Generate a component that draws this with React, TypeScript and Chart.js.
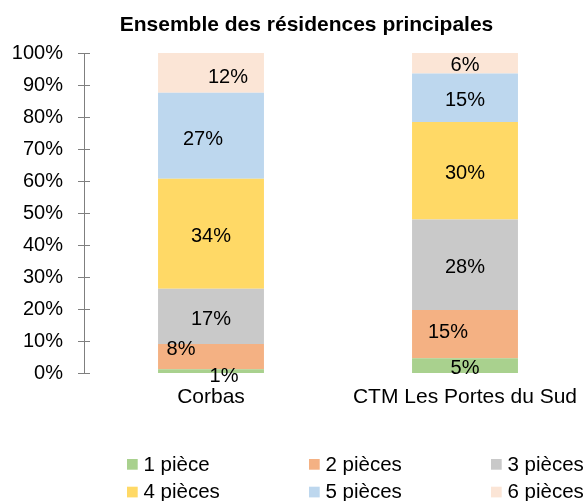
import React, { useEffect, useRef } from "react";
import { Chart, registerables } from "chart.js";

Chart.register(...registerables);

// ---- data ----
const categories = ["Corbas", "CTM Les Portes du Sud"];
const seriesNames = ["1 pièce", "2 pièces", "3 pièces", "4 pièces", "5 pièces", "6 pièces"];
const onePiece = [1.2, 4.6];
const twoPieces = [7.9, 15.1];
const threePieces = [17.2, 28.3];
const fourPieces = [34.4, 30.4];
const fivePieces = [26.9, 15.2];
const sixPieces = [12.4, 6.4];
const yMin = 0;
const yMax = 100;
const yStep = 10;
const titleText = "Ensemble des résidences principales";

// ---- styles ----
const seriesColors = ["#A9D18E", "#F4B183", "#C9C9C9", "#FFD966", "#BDD7EE", "#FBE5D6"];
// per-series, per-category label nudges [dx, dy] (manual label placement)
const labelNudges = [
  [[13, 3.5], [0, 1]],
  [[-30, -9], [-17, -3]],
  [[0, 1], [0, 1.5]],
  [[0, 1], [0, 1.5]],
  [[-8, 2], [0, 1.5]],
  [[17, 3], [0, 1]],
];
const FONT = '"Liberation Sans", Arial, sans-serif';
const FS = 20;
const AXIS_COLOR = "#7F7F7F";

const overlayPlugin = {
  id: "overlay",
  afterDatasetsDraw(chart: any) {
    const ctx = chart.ctx;
    const area = chart.chartArea;
    ctx.save();
    // data labels
    ctx.font = `${FS}px ${FONT}`;
    ctx.fillStyle = "#000";
    ctx.textAlign = "center";
    ctx.textBaseline = "alphabetic";
    chart.data.datasets.forEach((ds: any, di: number) => {
      const meta = chart.getDatasetMeta(di);
      meta.data.forEach((bar: any, i: number) => {
        const p = bar.getProps(["x", "y", "base"], true);
        const cy = (p.y + p.base) / 2;
        const nd = labelNudges[di][i];
        ctx.fillText(Math.round(ds.data[i]) + "%", p.x + nd[0], cy + nd[1] + 0.358 * FS);
      });
    });
    // cross tick marks on value axis
    const ys = chart.scales.y;
    ctx.strokeStyle = AXIS_COLOR;
    ctx.lineWidth = 1;
    ys.ticks.forEach((_t: any, i: number) => {
      const py = Math.round(ys.getPixelForTick(i)) + 0.5;
      ctx.beginPath();
      ctx.moveTo(area.left - 6, py);
      ctx.lineTo(area.left + 6, py);
      ctx.stroke();
    });
    // title
    ctx.font = `bold 21px ${FONT}`;
    ctx.fillStyle = "#000";
    ctx.textAlign = "center";
    ctx.fillText(titleText, 306.5, 31);
    // legend (3 columns x 2 rows)
    ctx.font = `20.5px ${FONT}`;
    ctx.textAlign = "left";
    chart.data.datasets.forEach((ds: any, di: number) => {
      const col = di % 3;
      const row = Math.floor(di / 3);
      const x = 127 + col * 182;
      const base = 470.7 + row * 27.7;
      ctx.fillStyle = ds.backgroundColor;
      ctx.fillRect(x, base - 11.7, 10.7, 10.7);
      ctx.fillStyle = "#000";
      ctx.fillText(ds.label, x + 16.5, base);
    });
    ctx.restore();
  },
};

export default function App() {
  const ref = useRef<HTMLCanvasElement | null>(null);
  useEffect(() => {
    if (!ref.current) return;
    const values = [onePiece, twoPieces, threePieces, fourPieces, fivePieces, sixPieces];
    const chart = new Chart(ref.current, {
      type: "bar",
      data: {
        labels: categories,
        datasets: seriesNames.map((name, i) => ({
          label: name,
          data: values[i],
          backgroundColor: seriesColors[i],
          borderWidth: 0,
          categoryPercentage: 1,
          barPercentage: 0.417,
        })),
      },
      options: {
        responsive: false,
        animation: false,
        devicePixelRatio: 1,
        layout: { padding: { left: 0, right: 8, top: 53, bottom: 0 } },
        font: { family: FONT, size: FS },
        plugins: {
          legend: { display: false },
          title: { display: false },
          tooltip: { enabled: false },
        },
        scales: {
          x: {
            stacked: true,
            grid: { display: false, drawTicks: false },
            border: { display: false },
            ticks: { color: "#000", font: { family: FONT, size: 21 }, padding: 12, maxRotation: 0 },
            afterFit: (s: any) => {
              s.height = 128;
            },
          },
          y: {
            stacked: true,
            min: yMin,
            max: yMax,
            grid: { display: false, drawTicks: false },
            border: { display: true, color: AXIS_COLOR, width: 1 },
            ticks: {
              stepSize: yStep,
              color: "#000",
              font: { family: FONT, size: FS },
              padding: 21,
              callback: (v: any) => v + "%",
            },
            afterFit: (s: any) => {
              s.width = 84;
            },
          },
        },
      },
      plugins: [overlayPlugin],
    });
    return () => chart.destroy();
  }, []);
  return (
    <div style={{ position: "fixed", left: 0, top: 0, width: 588, height: 501, overflow: "hidden", background: "#fff" }}>
      <canvas ref={ref} width={600} height={501} style={{ display: "block", width: 600, height: 501 }} />
    </div>
  );
}
